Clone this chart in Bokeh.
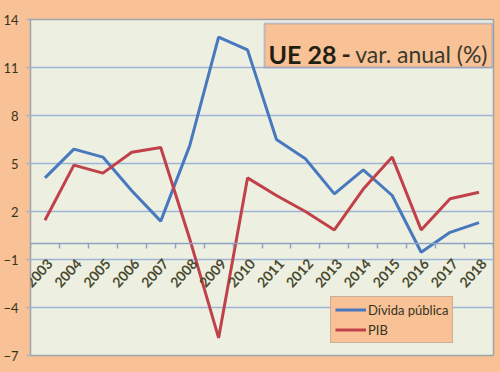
import math
from bokeh.plotting import figure
from bokeh.models import (Range1d, FixedTicker, BoxAnnotation, Label, Legend, LegendItem)
from bokeh.embed import file_html
from bokeh.resources import INLINE

years = [2003, 2004, 2005, 2006, 2007, 2008, 2009, 2010, 2011, 2012, 2013, 2014, 2015, 2016, 2017, 2018]
divida = [4.1, 5.9, 5.4, 3.3, 1.4, 6.1, 12.9, 12.1, 6.5, 5.3, 3.1, 4.6, 3.0, -0.55, 0.7, 1.3]
pib = [1.45, 4.9, 4.4, 5.7, 6.0, 0.3, -5.9, 4.1, 3.0, 2.0, 0.85, 3.4, 5.4, 0.85, 2.8, 3.2]
y_ticks = [-7, -4, -1, 2, 5, 8, 11, 14]
series_names = ["Dívida pública", "PIB"]
title_main = "UE 28"
title_dash = "-"
title_rest = "var. anual (%)"

PEACH = "#F9C196"
PLOT_BG = "#EDF0E1"
TXT = "#35351f"
BLUE = "#4878BE"
RED = "#C0414A"
GRID = "#9FB5D5"
AXIS = "#8EA3C2"

idx = list(range(len(years)))

W, H = 500, 372
p = figure(width=W, height=H, output_backend="svg", toolbar_location=None,
           x_range=Range1d(-0.5, len(years) - 0.5), y_range=Range1d(min(y_ticks), max(y_ticks)),
           min_border_left=30, min_border_right=7, min_border_top=19, min_border_bottom=17)
p.background_fill_color = PLOT_BG
p.border_fill_color = PEACH
p.outline_line_color = "#9EA4AC"
p.outline_line_width = 1.5

# frame scale (px per data unit) used only to convert pixel offsets of labels
px_x = (W - 30 - 7) / len(years)
px_y = (H - 19 - 17) / (max(y_ticks) - min(y_ticks))

# y axis
p.yaxis.ticker = FixedTicker(ticks=y_ticks)
p.yaxis.axis_line_color = None
p.yaxis.major_tick_line_color = GRID
p.yaxis.major_tick_line_width = 1.5
p.yaxis.major_tick_in = 0
p.yaxis.major_tick_out = 4
p.yaxis.minor_tick_line_color = None
p.yaxis.major_label_standoff = 8
p.yaxis.major_label_text_font = "Lato"
p.yaxis.major_label_text_font_size = "13px"
p.yaxis.major_label_text_color = TXT

p.ygrid.ticker = FixedTicker(ticks=y_ticks)
p.ygrid.grid_line_color = GRID
p.ygrid.grid_line_width = 1.5
p.xgrid.grid_line_color = None

# category axis drawn at y = 0, with ticks between categories
p.xaxis.fixed_location = 0
p.xaxis.ticker = FixedTicker(ticks=idx, minor_ticks=[i - 0.5 for i in range(len(years) + 1)])
p.xaxis.major_label_overrides = {i: "" for i in idx}
p.xaxis.major_tick_line_color = None
p.xaxis.minor_tick_in = 0
p.xaxis.minor_tick_out = 5
p.xaxis.minor_tick_line_color = AXIS
p.xaxis.minor_tick_line_width = 1.5
p.xaxis.axis_line_color = AXIS
p.xaxis.axis_line_width = 1.5

r1 = p.line(idx, divida, line_color=BLUE, line_width=3)
r2 = p.line(idx, pib, line_color=RED, line_width=3)

# rotated year labels, right end just below each category on the zero axis
for i, yr in zip(idx, years):
    p.add_layout(Label(x=i + 5 / px_x, y=-17.5 / px_y, text=str(yr), angle=0.84,
                       text_align="right", text_baseline="middle", text_font="Lato",
                       text_font_style="bold", text_font_size="14px", text_color="#4a4a30"))

# title box
box = BoxAnnotation(left=7.586, right=15.466, bottom=11.0, top=13.75,
                    fill_color=PEACH, fill_alpha=1, line_color="#4A72C0", line_width=2)
p.add_layout(box)
p.add_layout(Label(x=7.725, y=11.875, text=title_main, text_font="Lato", text_font_style="bold",
                   text_font_size="25px", text_color="#1f1f12", text_baseline="alphabetic"))
p.add_layout(Label(x=10.247, y=11.875, text=title_dash, text_font="Lato", text_font_style="bold",
                   text_font_size="25px", text_color="#26261a", text_baseline="alphabetic"))
p.add_layout(Label(x=15.293, y=11.875, text=title_rest, text_font="Lato",
                   text_font_size="23px", text_color="#3a3a2c", text_align="right",
                   text_baseline="alphabetic"))

legend = Legend(items=[LegendItem(label=series_names[0], renderers=[r1]),
                       LegendItem(label=series_names[1], renderers=[r2])],
                location=(300, 12))
legend.background_fill_color = PEACH
legend.background_fill_alpha = 1
legend.border_line_color = "#9C9C9C"
legend.border_line_width = 1.5
legend.label_text_font = "Lato"
legend.label_text_font_size = "13px"
legend.label_text_color = TXT
legend.glyph_width = 31
legend.glyph_height = 17
legend.label_height = 17
legend.label_standoff = 2
legend.padding = 4
legend.spacing = 3
legend.margin = 0
p.add_layout(legend)

html = file_html(p, INLINE)
html = html.replace("<body>", '<body style="background:%s">' % PEACH)
open("out.html", "w").write(html)
